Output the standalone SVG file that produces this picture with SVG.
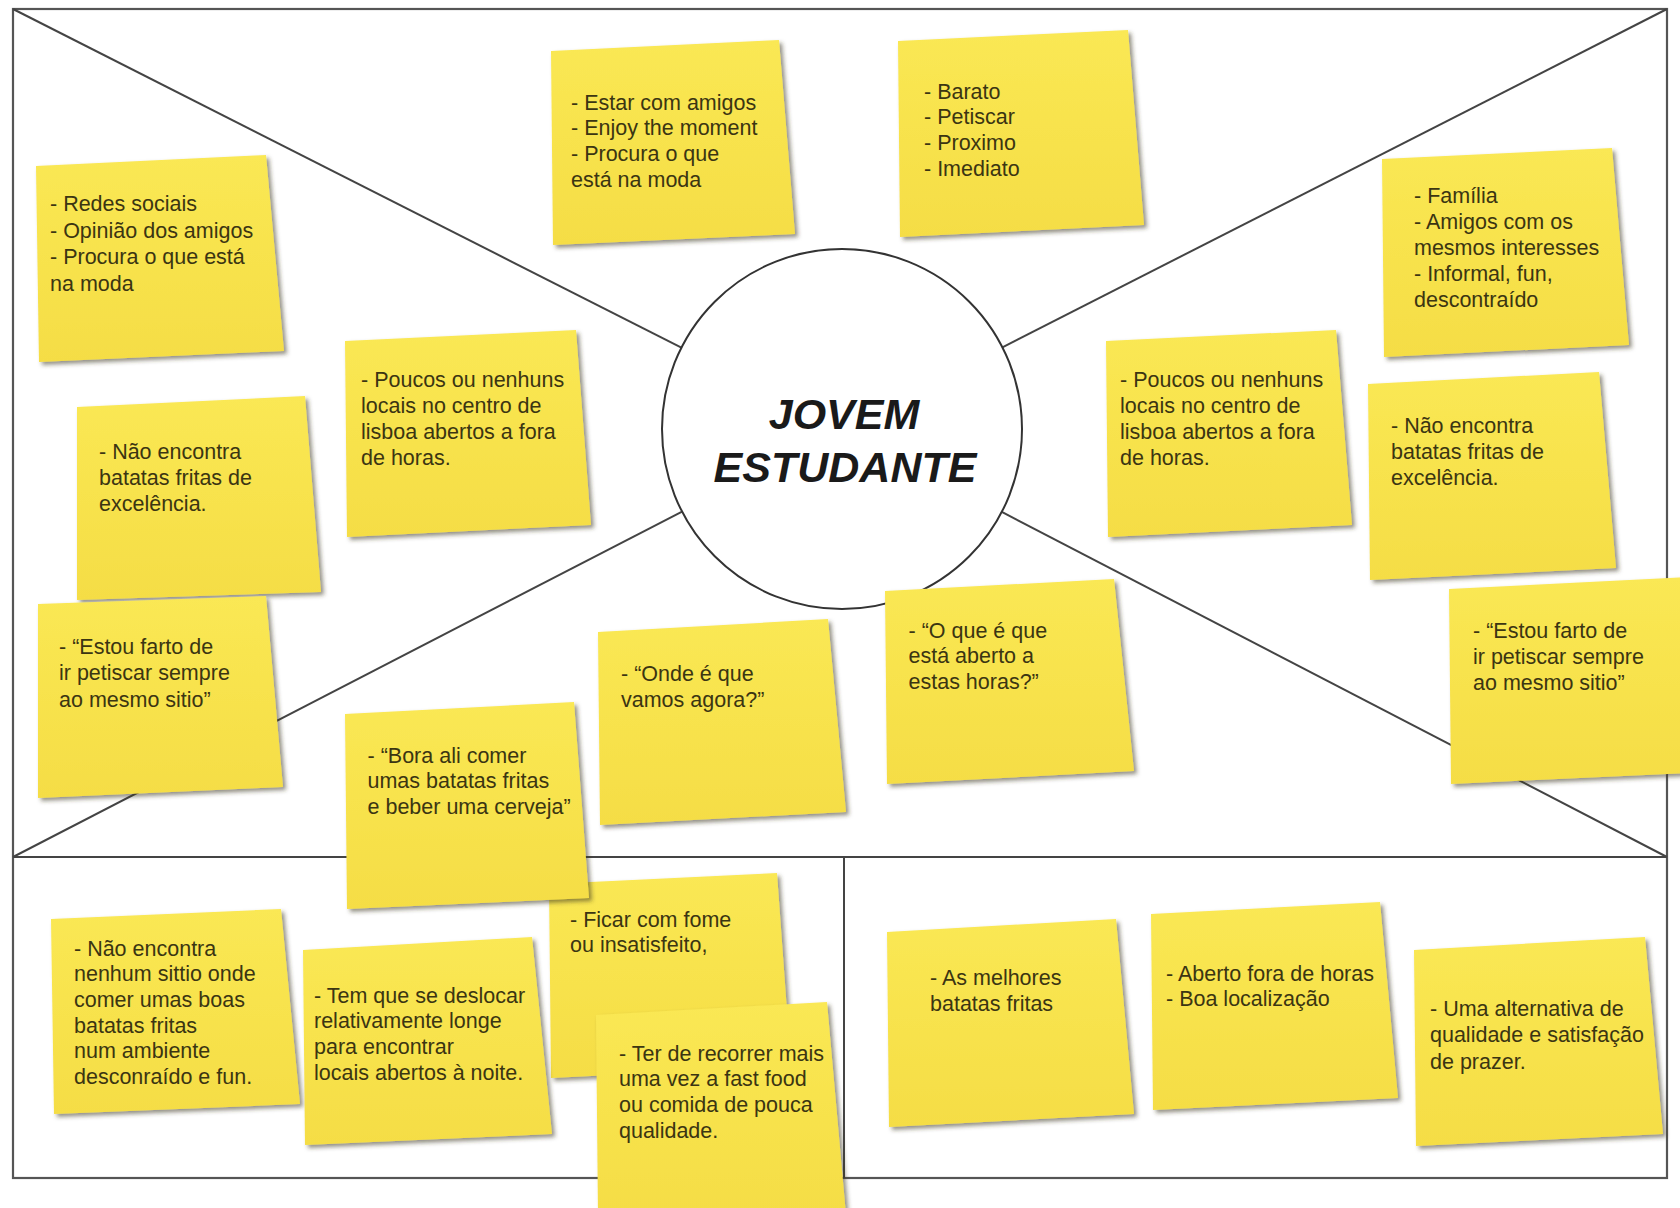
<svg xmlns="http://www.w3.org/2000/svg" width="1680" height="1208" viewBox="0 0 1680 1208">
<defs>
<linearGradient id="paper" x1="0" y1="0" x2="0" y2="1">
<stop offset="0" stop-color="#fae854"/>
<stop offset="1" stop-color="#f5dd45"/>
</linearGradient>
<filter id="shadow" x="-10%" y="-10%" width="125%" height="125%">
<feDropShadow dx="3" dy="3" stdDeviation="2" flood-color="#3a3520" flood-opacity="0.55"/>
</filter>
<style>
.line{stroke:#444;stroke-width:2;fill:none}
.frame{stroke:#555;stroke-width:2.2;fill:none}
.note polygon{fill:url(#paper);filter:url(#shadow)}
.note text{font-family:"Liberation Sans",Arial,sans-serif;font-size:21.5px;fill:#3b3512}
.title{font-family:"Liberation Sans",Arial,sans-serif;font-size:43px;font-weight:bold;font-style:italic;fill:#1a1a1a;text-anchor:middle}
</style>
</defs>
<rect x="0" y="0" width="1680" height="1208" fill="#ffffff"/>
<g id="connectors">
<rect class="frame" x="13" y="9" width="1654" height="1169"/>
<line class="line" x1="13" y1="857" x2="1667" y2="857"/>
<line class="line" x1="844" y1="857" x2="844" y2="1178"/>
<line class="line" x1="13" y1="9" x2="681.4" y2="347.6"/>
<line class="line" x1="1667" y1="9" x2="1002.4" y2="347.3"/>
<line class="line" x1="13" y1="857" x2="682.1" y2="511.6"/>
<line class="line" x1="1667" y1="857" x2="1001.8" y2="511.9"/>
</g>
<g id="center">
<circle cx="842" cy="429" r="180" fill="#ffffff" stroke="#333" stroke-width="2"/>
<text class="title" x="844" y="429">JOVEM</text>
<text class="title" x="845" y="482">ESTUDANTE</text>
</g>
<g id="note-estar" class="note">
<polygon points="551,51 779,40 795,234 553,245"/>
<text x="571" y="109.5"><tspan x="571">- Estar com amigos</tspan><tspan x="571" dy="25.7">- Enjoy the moment</tspan><tspan x="571" dy="25.7">- Procura o que</tspan><tspan x="571" dy="25.7">está na moda</tspan></text>
</g>
<g id="note-barato" class="note">
<polygon points="898,41 1128,30 1144,225 900,237"/>
<text x="924" y="98.5"><tspan x="924">- Barato</tspan><tspan x="924" dy="25.7">- Petiscar</tspan><tspan x="924" dy="25.7">- Proximo</tspan><tspan x="924" dy="25.7">- Imediato</tspan></text>
</g>
<g id="note-redes" class="note">
<polygon points="36,166 266,155 284,351 39,362"/>
<text x="50" y="211"><tspan x="50">- Redes sociais</tspan><tspan x="50" dy="26.5">- Opinião dos amigos</tspan><tspan x="50" dy="26.5">- Procura o que está</tspan><tspan x="50" dy="26.5">na moda</tspan></text>
</g>
<g id="note-familia" class="note">
<polygon points="1382,159 1612,148 1629,345 1384,357"/>
<text x="1414" y="202.5"><tspan x="1414">- Família</tspan><tspan x="1414" dy="26">- Amigos com os</tspan><tspan x="1414" dy="26">mesmos interesses</tspan><tspan x="1414" dy="26">- Informal, fun,</tspan><tspan x="1414" dy="26">descontraído</tspan></text>
</g>
<g id="note-poucos-l" class="note">
<polygon points="345,341 576,330 591,525 347,537"/>
<text x="361" y="386.5"><tspan x="361">- Poucos ou nenhuns</tspan><tspan x="361" dy="26.2">locais no centro de</tspan><tspan x="361" dy="26.2">lisboa abertos a fora</tspan><tspan x="361" dy="26.2">de horas.</tspan></text>
</g>
<g id="note-nao-l" class="note">
<polygon points="77,407 305,396 321,592 77,600"/>
<text x="99" y="458.5"><tspan x="99">- Não encontra</tspan><tspan x="99" dy="26.3">batatas fritas de</tspan><tspan x="99" dy="26.3">excelência.</tspan></text>
</g>
<g id="note-poucos-r" class="note">
<polygon points="1106,341 1336,330 1352,525 1108,537"/>
<text x="1120" y="386.5"><tspan x="1120">- Poucos ou nenhuns</tspan><tspan x="1120" dy="26.2">locais no centro de</tspan><tspan x="1120" dy="26.2">lisboa abertos a fora</tspan><tspan x="1120" dy="26.2">de horas.</tspan></text>
</g>
<g id="note-nao-r" class="note">
<polygon points="1368,384 1599,372 1616,568 1370,580"/>
<text x="1391" y="432.5"><tspan x="1391">- Não encontra</tspan><tspan x="1391" dy="26.3">batatas fritas de</tspan><tspan x="1391" dy="26.3">excelência.</tspan></text>
</g>
<g id="note-estou-l" class="note">
<polygon points="38,604 266,596 283,787 38,798"/>
<text x="59" y="653.5"><tspan x="59">- “Estou farto de</tspan><tspan x="59" dy="26.7">ir petiscar sempre</tspan><tspan x="59" dy="26.7">ao mesmo sitio”</tspan></text>
</g>
<g id="note-o-que" class="note">
<polygon points="885,591 1114,579 1134,771 887,784"/>
<text x="908.5" y="637.5"><tspan x="908.5">- “O que é que</tspan><tspan x="908.5" dy="25.7">está aberto a</tspan><tspan x="908.5" dy="25.7">estas horas?”</tspan></text>
</g>
<g id="note-estou-r" class="note">
<polygon points="1449,589 1690,577 1690,773 1451,784"/>
<text x="1473" y="637.5"><tspan x="1473">- “Estou farto de</tspan><tspan x="1473" dy="26">ir petiscar sempre</tspan><tspan x="1473" dy="26">ao mesmo sitio”</tspan></text>
</g>
<g id="note-onde" class="note">
<polygon points="598,632 828,619 846,812 600,825"/>
<text x="621" y="680.5"><tspan x="621">- “Onde é que</tspan><tspan x="621" dy="26.8">vamos agora?”</tspan></text>
</g>
<g id="note-ficar" class="note">
<polygon points="549,884 777,873 791,1066 551,1078"/>
<text x="570" y="926.5"><tspan x="570">- Ficar com fome</tspan><tspan x="570" dy="25.7">ou insatisfeito,</tspan></text>
</g>
<g id="note-bora" class="note">
<polygon points="345,714 574,702 589,898 347,909"/>
<text x="367.5" y="762.5"><tspan x="367.5">- “Bora ali comer</tspan><tspan x="367.5" dy="25.7">umas batatas fritas</tspan><tspan x="367.5" dy="25.7">e beber uma cerveja”</tspan></text>
</g>
<g id="note-nenhum" class="note">
<polygon points="51,919 281,909 300,1104 54,1114"/>
<text x="74" y="955.5"><tspan x="74">- Não encontra</tspan><tspan x="74" dy="25.7">nenhum sittio onde</tspan><tspan x="74" dy="25.7">comer umas boas</tspan><tspan x="74" dy="25.7">batatas fritas</tspan><tspan x="74" dy="25.7">num ambiente</tspan><tspan x="74" dy="25.7">desconraído e fun.</tspan></text>
</g>
<g id="note-tem" class="note">
<polygon points="303,950 532,937 552,1134 305,1145"/>
<text x="314" y="1002.5"><tspan x="314">- Tem que se deslocar</tspan><tspan x="314" dy="25.8">relativamente longe</tspan><tspan x="314" dy="25.8">para encontrar</tspan><tspan x="314" dy="25.8">locais abertos à noite.</tspan></text>
</g>
<g id="note-ter" class="note">
<polygon points="596,1015 827,1002 846,1215 598,1215"/>
<text x="619" y="1060.5"><tspan x="619">- Ter de recorrer mais</tspan><tspan x="619" dy="25.7">uma vez a fast food</tspan><tspan x="619" dy="25.7">ou comida de pouca</tspan><tspan x="619" dy="25.7">qualidade.</tspan></text>
</g>
<g id="note-melhores" class="note">
<polygon points="887,932 1116,919 1134,1114 889,1127"/>
<text x="930" y="984.5"><tspan x="930">- As melhores</tspan><tspan x="930" dy="26.7">batatas fritas</tspan></text>
</g>
<g id="note-aberto" class="note">
<polygon points="1151,914 1380,902 1398,1098 1153,1110"/>
<text x="1166" y="980.5"><tspan x="1166">- Aberto fora de horas</tspan><tspan x="1166" dy="25.7">- Boa localização</tspan></text>
</g>
<g id="note-alternativa" class="note">
<polygon points="1414,950 1645,937 1663,1134 1416,1146"/>
<text x="1430" y="1015.5"><tspan x="1430">- Uma alternativa de</tspan><tspan x="1430" dy="26.5">qualidade e satisfação</tspan><tspan x="1430" dy="26.5">de prazer.</tspan></text>
</g>
</svg>
